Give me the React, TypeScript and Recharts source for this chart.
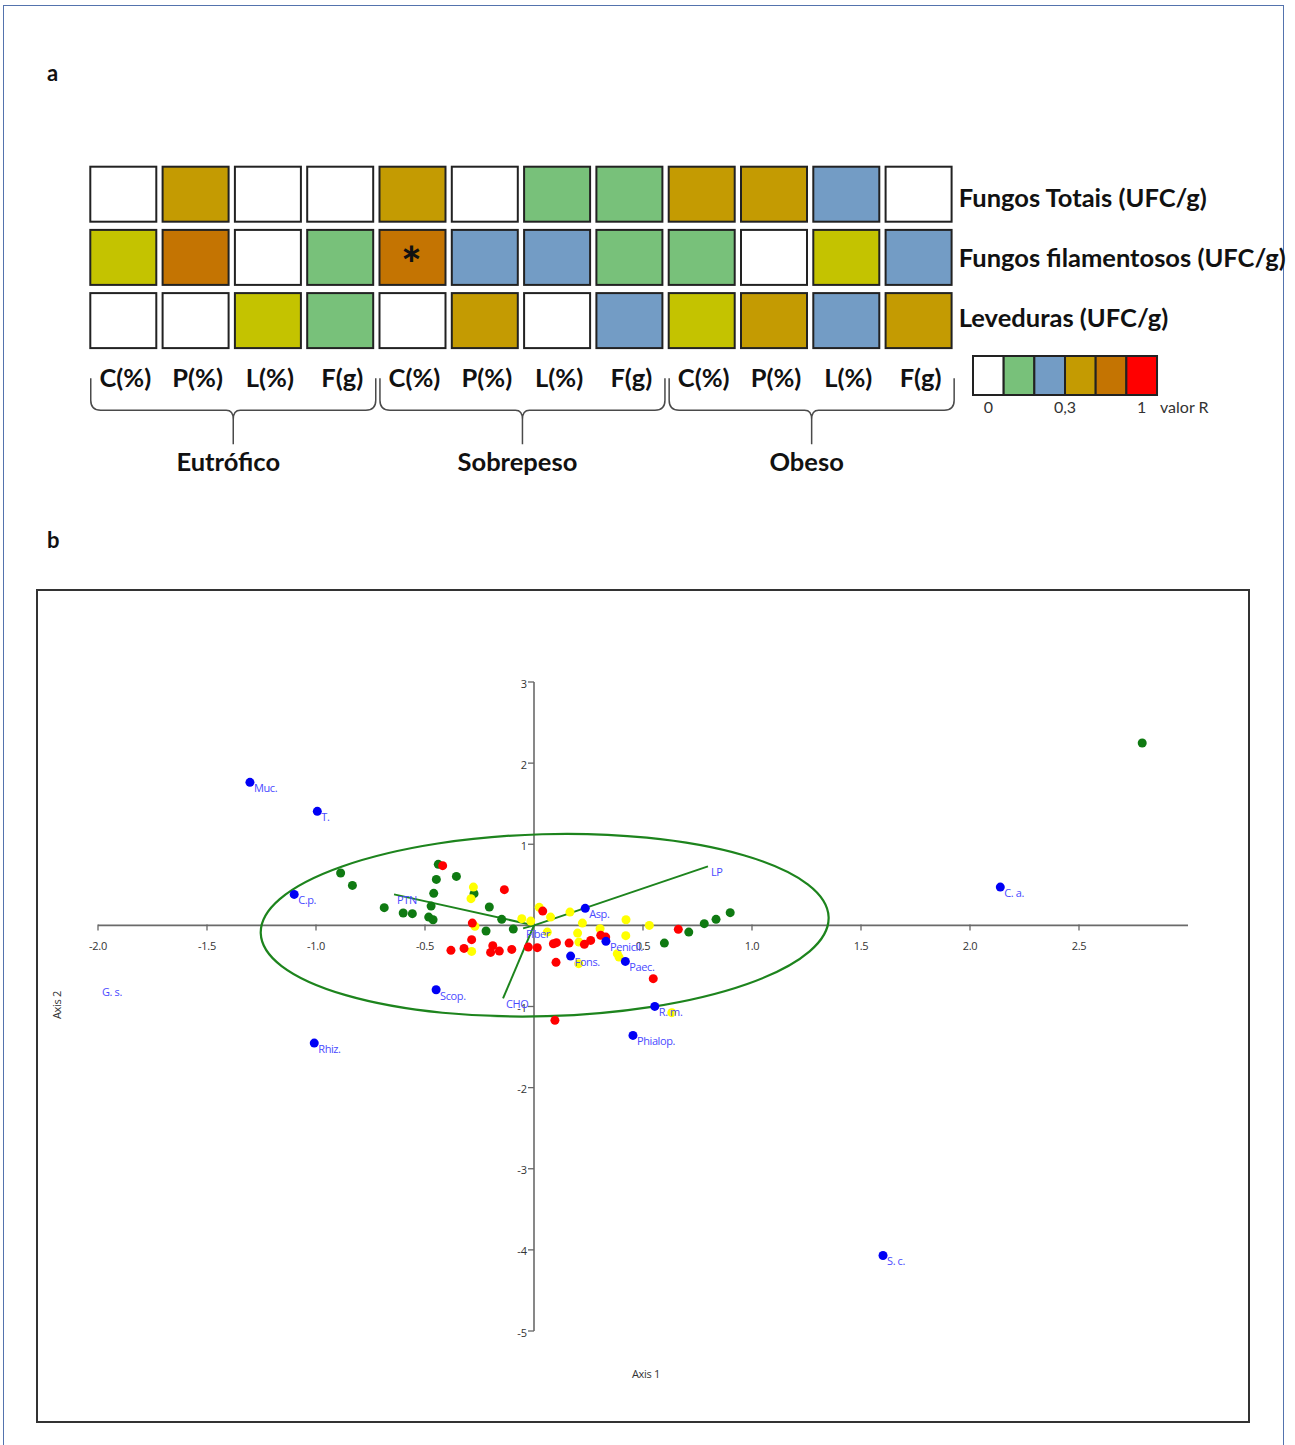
import React from 'react';
import { ScatterChart, Scatter, XAxis, YAxis, Legend } from 'recharts';

// ---------------- Panel a: correlation heat map ----------------
const columnLabels = ['C(%)', 'P(%)', 'L(%)', 'F(g)', 'C(%)', 'P(%)', 'L(%)', 'F(g)', 'C(%)', 'P(%)', 'L(%)', 'F(g)'];
const groupLabels = ['Eutrófico', 'Sobrepeso', 'Obeso'];
const groupCenters = [1.5, 5.5, 9.5];
const rowLabels = ['Fungos Totais (UFC/g)', 'Fungos filamentosos (UFC/g)', 'Leveduras (UFC/g)'];
const totaisLevels = ['w', 'au', 'w', 'w', 'au', 'w', 'g', 'g', 'au', 'au', 'b', 'w'];
const filamentososLevels = ['ol', 'or', 'w', 'g', 'or', 'b', 'b', 'g', 'g', 'w', 'ol', 'b'];
const levedurasLevels = ['w', 'w', 'ol', 'g', 'w', 'au', 'w', 'b', 'ol', 'au', 'b', 'au'];
const significantCells = [[1, 4]];
const legendLevels = ['w', 'g', 'b', 'au', 'or', 'r'];
const legendTickLabels = ['0', '0,3', '1'];
const legendTickPositions = [0.5, 3, 5.5];
const legendTitle = 'valor R';

const levelColors: Record<string, string> = {
  w: '#ffffff',
  g: '#78c17a',
  b: '#739cc5',
  au: '#c49b02',
  or: '#c47402',
  ol: '#c4c300',
  r: '#ff0000',
};

const rowLevels = [totaisLevels, filamentososLevels, levedurasLevels];
const heatCells = rowLevels.flatMap((levels, r) =>
  levels.map((level, c) => ({
    x: c,
    y: r,
    level,
    sig: significantCells.some(([sr, sc]) => sr === r && sc === c),
  }))
);
const heatXTicks = [...columnLabels.map((_, i) => i), ...groupCenters];

// ---------------- Panel b: biplot ----------------
const greenSamples = [
  { x: -0.887, y: 0.645 }, { x: -0.833, y: 0.493 }, { x: -0.687, y: 0.218 }, { x: -0.6, y: 0.152 },
  { x: -0.558, y: 0.144 }, { x: -0.483, y: 0.102 }, { x: -0.463, y: 0.07 }, { x: -0.472, y: 0.238 },
  { x: -0.46, y: 0.395 }, { x: -0.448, y: 0.567 }, { x: -0.439, y: 0.752 }, { x: -0.356, y: 0.604 },
  { x: -0.275, y: 0.391 }, { x: -0.205, y: 0.226 }, { x: -0.148, y: 0.074 }, { x: -0.22, y: -0.07 },
  { x: -0.095, y: -0.046 }, { x: 0.598, y: -0.218 }, { x: 0.71, y: -0.083 }, { x: 0.781, y: 0.021 },
  { x: 0.835, y: 0.074 }, { x: 0.9, y: 0.157 }, { x: 2.79, y: 2.248 },
];
const yellowSamples = [
  { x: -0.278, y: 0.472 }, { x: -0.289, y: 0.329 }, { x: -0.271, y: -0.012 }, { x: -0.286, y: -0.321 },
  { x: -0.056, y: 0.083 }, { x: -0.015, y: 0.053 }, { x: 0.024, y: 0.222 }, { x: 0.076, y: 0.102 },
  { x: 0.061, y: -0.083 }, { x: 0.165, y: 0.164 }, { x: 0.222, y: 0.028 }, { x: 0.2, y: -0.095 },
  { x: 0.206, y: -0.206 }, { x: 0.303, y: -0.041 }, { x: 0.422, y: 0.07 }, { x: 0.421, y: -0.127 },
  { x: 0.529, y: 0.0 }, { x: 0.382, y: -0.349 }, { x: 0.39, y: -0.391 }, { x: 0.205, y: -0.472 },
  { x: 0.632, y: -1.076 },
];
const redSamples = [
  { x: -0.419, y: 0.736 }, { x: -0.136, y: 0.44 }, { x: 0.04, y: 0.176 }, { x: -0.283, y: 0.028 },
  { x: -0.286, y: -0.176 }, { x: -0.381, y: -0.308 }, { x: -0.321, y: -0.284 }, { x: -0.189, y: -0.25 },
  { x: -0.199, y: -0.333 }, { x: -0.159, y: -0.317 }, { x: -0.102, y: -0.296 }, { x: -0.026, y: -0.268 },
  { x: 0.015, y: -0.275 }, { x: 0.089, y: -0.226 }, { x: 0.103, y: -0.213 }, { x: 0.101, y: -0.456 },
  { x: 0.161, y: -0.218 }, { x: 0.231, y: -0.234 }, { x: 0.26, y: -0.185 }, { x: 0.306, y: -0.123 },
  { x: 0.329, y: -0.144 }, { x: 0.662, y: -0.049 }, { x: 0.547, y: -0.657 }, { x: 0.096, y: -1.171 },
];
const fungiNames = ['Muc.', 'T.', 'C.p.', 'Scop.', 'Rhiz.', 'G. s.', 'Asp.', 'Penicil.', 'Fons.', 'Paec.', 'R. m.', 'Phialop.', 'C. a.', 'S. c.'];
const fungiX = [-1.303, -0.994, -1.1, -0.449, -1.008, -2.0, 0.235, 0.33, 0.168, 0.419, 0.554, 0.454, 2.139, 1.601];
const fungiY = [1.763, 1.406, 0.382, -0.793, -1.451, -0.752, 0.21, -0.197, -0.379, -0.444, -0.999, -1.356, 0.472, -4.069];
const fungiWithoutDot = ['G. s.'];
const vectorNames = ['LP', 'PTN', 'CHO', 'Fiber'];
const vectorX = [0.798, -0.642, -0.142, -0.05];
const vectorY = [0.727, 0.382, -0.9, -0.037];
const ellipseCenter = { x: 0.049, y: 0.002 };
const ellipseRadii = { x: 1.303, y: 1.122 };
const ellipseTilt = -1.6;
const xTickValues = [-2, -1.5, -1, -0.5, 0.5, 1, 1.5, 2, 2.5];
const yTickValues = [3, 2, 1, -1, -2, -3, -4, -5];
const xDomain = [-2, 3];
const yDomain = [-5, 3];

const fungi = fungiNames.map((name, i) => ({ x: fungiX[i], y: fungiY[i], name, dot: !fungiWithoutDot.includes(name) }));
const xAxisLine = [{ x: xDomain[0], y: 0 }, { x: xDomain[1], y: 0 }];
const yAxisLine = [{ x: 0, y: yDomain[0] }, { x: 0, y: yDomain[1] }];
const xTicks = xTickValues.map((v) => ({ x: v, y: 0, label: v.toFixed(1) }));
const yTicks = yTickValues.map((v) => ({ x: 0, y: v, label: String(v) }));
const ellipseData = [
  { x: ellipseCenter.x, y: ellipseCenter.y },
  { x: ellipseCenter.x + ellipseRadii.x, y: ellipseCenter.y + ellipseRadii.y },
];
const vectorLines = vectorNames.map((name, i) => [
  { x: 0, y: 0 },
  { x: vectorX[i], y: vectorY[i] },
]);
const vectorEnds = vectorNames.map((name, i) => ({ x: vectorX[i], y: vectorY[i], name }));

// ---------------- styles ----------------
const GREEN = '#1d841d';
const BLUE_TEXT = '#4a4aff';
const LABEL_FONT = '"Open Sans", "DejaVu Sans", sans-serif';
const BOLD_FONT = 'Lato, "Noto Sans", sans-serif';
const BOLD_SIZE = 25.5;

// ---------------- Panel a shapes ----------------
const HeatCell = (p: any) => {
  const { cx, cy, payload } = p;
  return (
    <g>
      <rect x={cx - 33} y={cy - 27.5} width={66} height={55} fill={levelColors[payload.level]} stroke="#222" strokeWidth={2} />
      {payload.sig ? (
        <text x={cx - 1} y={cy + 25} textAnchor="middle" fontFamily={BOLD_FONT} fontWeight={900} fontSize={48} fill="#111">*</text>
      ) : null}
    </g>
  );
};

const Brace = ({ x, y, label }: { x: number; y: number; label: string }) => {
  const xm = x + 1.5;
  const x1 = xm - 142.5;
  const x2 = xm + 142.5;
  const yt = y + 26;
  const yl = y + 58;
  const yp = y + 92;
  const d = `M ${x1} ${yt} L ${x1} ${yl - 10} Q ${x1} ${yl} ${x1 + 10} ${yl} L ${xm - 7} ${yl} Q ${xm} ${yl} ${xm} ${yl + 9} L ${xm} ${yp} M ${xm} ${yl + 9} Q ${xm} ${yl} ${xm + 7} ${yl} L ${x2 - 10} ${yl} Q ${x2} ${yl} ${x2} ${yl - 10} L ${x2} ${yt}`;
  return (
    <g>
      <path d={d} fill="none" stroke="#4a4a4a" strokeWidth={1.5} />
      <text x={xm - 5} y={y + 119} textAnchor="middle" fontFamily={BOLD_FONT} fontWeight={700} fontSize={BOLD_SIZE} fill="#111">
        {label}
      </text>
    </g>
  );
};

const HeatXTick = (p: any) => {
  const { x, y, payload } = p;
  const gi = groupCenters.indexOf(payload.value);
  if (gi >= 0) return <Brace x={x} y={y} label={groupLabels[gi]} />;
  return (
    <text x={x + 2} y={y + 25} textAnchor="middle" dominantBaseline="central" fontFamily={BOLD_FONT} fontWeight={700} fontSize={BOLD_SIZE} fill="#111">
      {columnLabels[payload.value]}
    </text>
  );
};

const RowTick = (p: any) => {
  const { x, y, payload } = p;
  return (
    <text x={x + 4} y={y + 12.5 - 3.15 * payload.value} textAnchor="start" fontFamily={BOLD_FONT} fontWeight={700} fontSize={BOLD_SIZE} fill="#111">
      {rowLabels[payload.value]}
    </text>
  );
};

const ColorBar = () => {
  const w = 30.67;
  return (
    <svg width={260} height={70} style={{ display: 'block', overflow: 'visible' }}>
      {legendLevels.map((lv, i) => (
        <rect key={i} x={1 + i * w} y={2} width={w} height={39} fill={levelColors[lv]} stroke="#222" strokeWidth={2} />
      ))}
      {legendTickLabels.map((t, i) => (
        <text key={t} x={1 + legendTickPositions[i] * w} y={52} textAnchor="middle" dominantBaseline="central" fontFamily={BOLD_FONT} fontSize={16} fill="#333">
          {t}
        </text>
      ))}
      <text x={188} y={52} textAnchor="start" dominantBaseline="central" fontFamily={BOLD_FONT} fontSize={16} fill="#333">
        {legendTitle}
      </text>
    </svg>
  );
};

// ---------------- Panel b shapes ----------------
const Empty = () => <g />;

const EllipseLine = (p: any) => {
  const pts = p.points || [];
  if (pts.length < 2) return <g />;
  const c = pts[0];
  const e = pts[1];
  const rx = Math.abs(e.x - c.x);
  const ry = Math.abs(e.y - c.y);
  return (
    <ellipse cx={c.x} cy={c.y} rx={rx} ry={ry} transform={`rotate(${ellipseTilt} ${c.x} ${c.y})`} fill="none" stroke={GREEN} strokeWidth={2.2} />
  );
};

const XTickShape = (p: any) => {
  const { cx, cy, payload } = p;
  return (
    <g>
      <line x1={cx} y1={cy - 1} x2={cx} y2={cy + 5} stroke="#666" strokeWidth={1.3} />
      <text x={cx} y={cy + 20} textAnchor="middle" dominantBaseline="central" fontFamily={LABEL_FONT} fontSize={11} fill="#333" letterSpacing={-0.3}>
        {payload.label}
      </text>
    </g>
  );
};

const YTickShape = (p: any) => {
  const { cx, cy, payload } = p;
  return (
    <g>
      <line x1={cx - 6} y1={cy} x2={cx} y2={cy} stroke="#666" strokeWidth={1.3} />
      <text x={cx - 7} y={cy + 1} textAnchor="end" dominantBaseline="central" fontFamily={LABEL_FONT} fontSize={11} fill="#333">
        {payload.label}
      </text>
    </g>
  );
};

const dot = (color: string) => (p: any) => <circle cx={p.cx} cy={p.cy} r={4.5} fill={color} />;

const FungusShape = (p: any) => {
  const { cx, cy, payload } = p;
  return (
    <g>
      {payload.dot ? <circle cx={cx} cy={cy} r={4.5} fill="#0000f5" /> : null}
      <text x={cx + 4} y={cy + 10} fontFamily={LABEL_FONT} fontSize={11} fill={BLUE_TEXT} letterSpacing={-0.4}>
        {payload.name}
      </text>
    </g>
  );
};

const VectorLabel = (p: any) => {
  const { cx, cy, payload } = p;
  return (
    <text x={cx + 3} y={cy + 10} fontFamily={LABEL_FONT} fontSize={11} fill={BLUE_TEXT} letterSpacing={-0.4}>
      {payload.name}
    </text>
  );
};

export default function App() {
  return (
    <div style={{ position: 'absolute', left: 0, top: 0, width: 1295, height: 1445, overflow: 'hidden', background: '#fff' }}>
      <div
        style={{
          position: 'absolute', left: 3, top: 5, width: 1281, height: 1460,
          border: '1.5px solid #5473ad', boxSizing: 'border-box',
        }}
      />
      <div style={{ position: 'absolute', left: 47, top: 59, fontFamily: BOLD_FONT, fontWeight: 700, fontSize: 22, lineHeight: '28px', color: '#111' }}>a</div>
      <div style={{ position: 'absolute', left: 47, top: 526, fontFamily: BOLD_FONT, fontWeight: 700, fontSize: 22, lineHeight: '28px', color: '#111' }}>b</div>

      {/* Panel a */}
      <div style={{ position: 'absolute', left: 0, top: 0 }}>
        <ScatterChart width={1295} height={500} margin={{ top: 162.6, right: 339.25, bottom: 146.8, left: 87.15 }}>
          <XAxis
            xAxisId="col" type="number" dataKey="x" domain={[-0.5, 11.5]} ticks={heatXTicks}
            interval={0} axisLine={false} tickLine={false} tickSize={0} tickMargin={0} height={1} tick={<HeatXTick />}
          />
          <YAxis
            yAxisId="row" type="number" dataKey="y" orientation="right" domain={[-0.5, 2.5]} reversed ticks={[0, 1, 2]}
            interval={0} axisLine={false} tickLine={false} tickSize={0} tickMargin={0} width={1} tick={<RowTick />}
          />
          <Scatter xAxisId="col" yAxisId="row" data={heatCells} shape={HeatCell} isAnimationActive={false} />
          <Legend
            layout="horizontal" verticalAlign="middle" align="center"
            wrapperStyle={{ left: 972, top: 354, width: 260, height: 70 }}
            content={() => <ColorBar />}
          />
        </ScatterChart>
      </div>

      {/* Panel b */}
      <div style={{ position: 'absolute', left: 36, top: 589, width: 1214, height: 834, border: '2px solid #333', boxSizing: 'border-box' }}>
        <ScatterChart width={1210} height={830} margin={{ top: 91, right: 60, bottom: 90, left: 60 }}>
          <XAxis type="number" dataKey="x" domain={xDomain} ticks={xTickValues} hide />
          <YAxis type="number" dataKey="y" domain={yDomain} ticks={yTickValues} hide />
          <Scatter data={xAxisLine} line={{ stroke: '#6a6a6a', strokeWidth: 1.6 }} lineType="joint" shape={Empty} isAnimationActive={false} />
          <Scatter data={yAxisLine} line={{ stroke: '#6a6a6a', strokeWidth: 1.6 }} lineType="joint" shape={Empty} isAnimationActive={false} />
          <Scatter data={xTicks} shape={XTickShape} isAnimationActive={false} />
          <Scatter data={yTicks} shape={YTickShape} isAnimationActive={false} />
          <Scatter data={ellipseData} line={(lp: any) => <EllipseLine {...lp} />} lineType="joint" shape={Empty} isAnimationActive={false} />
          {vectorLines.map((v, i) => (
            <Scatter key={vectorNames[i]} data={v} line={{ stroke: GREEN, strokeWidth: 2 }} lineType="joint" shape={Empty} isAnimationActive={false} />
          ))}
          <Scatter data={greenSamples} shape={dot('#0f7a12')} isAnimationActive={false} />
          <Scatter data={yellowSamples} shape={dot('#ffff00')} isAnimationActive={false} />
          <Scatter data={redSamples} shape={dot('#ff0000')} isAnimationActive={false} />
          <Scatter data={vectorEnds} shape={VectorLabel} isAnimationActive={false} />
          <Scatter data={fungi} shape={FungusShape} isAnimationActive={false} />
        </ScatterChart>
        <div style={{ position: 'absolute', left: 606 - 38, top: 1374 - 591 - 8, width: 80, textAlign: 'center', fontFamily: LABEL_FONT, fontSize: 11, color: '#333', lineHeight: '16px', letterSpacing: -0.3 }}>
          Axis 1
        </div>
        <div style={{ position: 'absolute', left: 57 - 38 - 40, top: 1005 - 591 - 8, width: 80, textAlign: 'center', fontFamily: LABEL_FONT, fontSize: 11, color: '#333', lineHeight: '16px', transform: 'rotate(-90deg)', letterSpacing: -0.3 }}>
          Axis 2
        </div>
      </div>
    </div>
  );
}
